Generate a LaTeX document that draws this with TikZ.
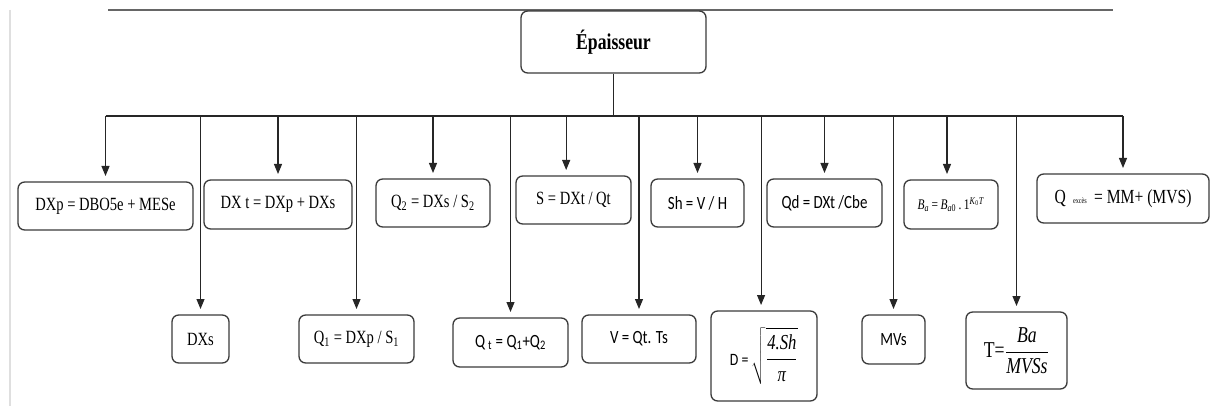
\documentclass[tikz,border=0pt]{standalone}
\usepackage{fontspec}
\setmainfont{Liberation Serif}[FakeStretch=0.78]
\newfontfamily\sansc{Carlito}[FakeStretch=0.8]
\usetikzlibrary{arrows.meta}
\definecolor{boxline}{HTML}{3A3A3A}
\definecolor{linecol}{HTML}{262626}
\begin{document}
\begin{tikzpicture}[x=0.75pt,y=-0.75pt,
  box/.style={draw=boxline, line width=1pt, rounded corners=5pt, inner sep=0pt,
    align=center, font=\fontsize{14}{16}\selectfont},
  sans/.style={font=\fontsize{14}{16}\selectfont\sansc},
  sz/.style 2 args={minimum width=#1*0.75pt, minimum height=#2*0.75pt},
  link/.style={draw=linecol, line width=0.8pt},
  arr/.style={link, -{Triangle[width=6pt,length=7.5pt]}, shorten >=4pt},
]
\useasboundingbox (0,0) rectangle (1210,406);

% page rules
\draw[gray!25, line width=1.5pt] (10,10) -- (10,406);
\draw[black!60, line width=0.8pt] (108,10) -- (1113,10);

% root
\node[box, sz={185}{62}, font=\fontsize{17}{20}\selectfont\bfseries] (main) at (613.5,42)
  {\raisebox{4pt}{Épaisseur}};

% upper row
\node[box, sz={175}{48}] (dxp) at (105.5,206) {DXp = DBO5e + MESe};
\node[box, sz={148}{49}] (dxt) at (278,204.5) {DX t = DXp + DXs};
\node[box, sz={114}{48}] (q2) at (433,203) {Q\textsubscript{2} = DXs / S\textsubscript{2}};
\node[box, sz={115}{48}] (s) at (573.5,200) {\raisebox{2pt}{S = DXt / Qt}};
\node[box, sans, sz={93}{48}] (sh) at (697.5,203) {Sh = V / H};
\node[box, sans, sz={115}{48}] (qd) at (824.5,203) {Qd = DXt /Cbe};
\node[box, sz={94}{49}, font=\fontsize{11}{13}\selectfont] (ba) at (951,204.5)
  {\textit{B}\textsubscript{\textit{a}}\,=\,\textit{B}\textsubscript{\textit{a}0}\,.\,1\textsuperscript{\textit{K}\textsubscript{0}\textit{T}}};
\node[box, sz={172}{49}, font=\fontsize{15}{17}\selectfont] (qex) at (1123,198.5)
  {Q\ \,{\fontsize{6}{7}\selectfont excès}\ \,=\ MM+\ (MVS)};

% lower row
\node[box, sz={57}{48}] (dxs) at (200.5,339) {DXs};
\node[box, sz={115}{48}] (q1) at (356.5,339) {Q\textsubscript{1} = DXp / S\textsubscript{1}};
\node[box, sans, sz={115}{49}] (qt) at (510.5,342.5) {Q\,\textsubscript{t} = Q\textsubscript{1}+Q\textsubscript{2}};
\node[box, sans, sz={114}{48}] (v) at (639,339) {\raisebox{3pt}{V = Qt. Ts}};
\node[box, sz={106}{90}] (d) at (764,356)
  {{\sansc\fontsize{13}{15}\selectfont D =}\,{\fontsize{16}{18}\selectfont$\displaystyle\sqrt{\frac{\textit{4.Sh}}{\textit{π}}}$}};
\node[box, sans, sz={63}{49}] (mvs) at (893.5,339.5) {MVs};
\node[box, sz={101}{77}, font=\fontsize{17}{20}\selectfont] (t) at (1016.5,350.5)
  {T=$\displaystyle\frac{\textit{Ba}}{\textit{MVSs}}$};

% trunk and bus
\coordinate (bus) at (614,116);
\draw[link] (main.south) -- (main.south |- bus);
\draw[link] (dxp.north |- bus) -- (qex.north |- bus);

% branches
\foreach \n in {dxp,dxt,q2,sh,qd,qex,dxs,q1,qt,v,mvs,t}
  \draw[arr] (\n.north |- bus) -- (\n.north);
\draw[arr] ([xshift=-5.5pt]s.north |- bus) -- ([xshift=-5.5pt]s.north);
\draw[arr] ([xshift=-3pt]ba.north |- bus) -- ([xshift=-3pt]ba.north);
\draw[arr] ([xshift=-2.2pt]d.north |- bus) -- ([xshift=-2.2pt]d.north);
\end{tikzpicture}
\end{document}
